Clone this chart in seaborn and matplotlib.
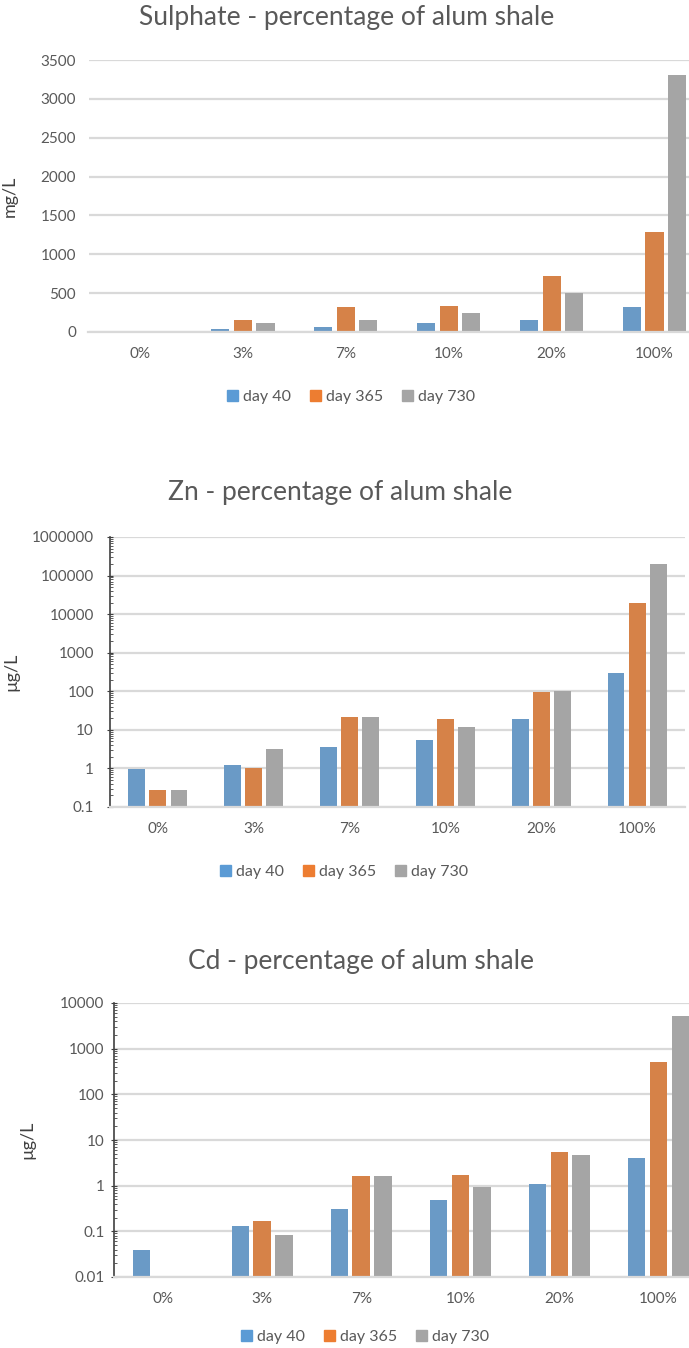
import numpy as np
import pandas as pd
import matplotlib
matplotlib.use("Agg")
import matplotlib.pyplot as plt
import seaborn as sns
from matplotlib.patches import Patch

sns.set_style("white")
plt.rcParams['font.family'] = ['Lato', 'DejaVu Sans']

# data
categories = ['0%', '3%', '7%', '10%', '20%', '100%']
days = ['day 40', 'day 365', 'day 730']
colors = ['#5B9BD5', '#ED7D31', '#A5A5A5']

sulphate_d40 = [10, 40, 70, 120, 150, 320]
sulphate_d365 = [8, 160, 320, 340, 720, 1290]
sulphate_d730 = [8, 120, 150, 240, 500, 3310]

zn_d40 = [0.95, 1.25, 3.5, 5.5, 19, 300]
zn_d365 = [0.28, 1.0, 22, 19, 95, 20000]
zn_d730 = [0.28, 3.2, 22, 12, 100, 200000]

cd_d40 = [0.04, 0.13, 0.31, 0.48, 1.1, 4.0]
cd_d365 = [np.nan, 0.17, 1.6, 1.7, 5.5, 500]
cd_d730 = [np.nan, 0.085, 1.6, 0.95, 4.6, 5300]

W, H = 689, 1348
TXT = '#595959'


def long_df(a, b, c):
    rows = []
    for series, vals in zip(days, [a, b, c]):
        for cat, v in zip(categories, vals):
            rows.append({'pct': cat, 'day': series, 'value': v})
    return pd.DataFrame(rows)


def px_axes(fig, left, right, top, bottom):
    return fig.add_axes([left / W, (H - bottom) / H, (right - left) / W, (bottom - top) / H])


def draw(fig, ax, df, log, title, title_xy, ylabel, ylab_x, legend_xy, ypad):
    sns.barplot(data=df, x='pct', y='value', hue='day', palette=colors,
                order=categories, hue_order=days, width=0.66, gap=0.2,
                linewidth=0, ax=ax, legend=False)
    if log:
        ax.set_yscale('log')
    ax.set_xlim(-0.5, 5.5)
    ax.grid(axis='y', color='#D9D9D9', linewidth=1.6)
    ax.grid(axis='x', visible=False)
    ax.set_axisbelow(True)
    for s in ['top', 'right']:
        ax.spines[s].set_visible(False)
    ax.spines['bottom'].set_color('#D9D9D9')
    ax.spines['bottom'].set_linewidth(1.6)
    ax.set_xlabel('')
    ax.set_ylabel(ylabel, fontsize=13, color='#404040')
    ax.yaxis.set_label_coords(ylab_x, 0.5)
    ax.tick_params(axis='x', length=0, pad=11, labelsize=11, labelcolor=TXT)
    ax.tick_params(axis='y', labelsize=11, labelcolor=TXT, pad=ypad)
    fig.text(title_xy[0] / W, 1 - title_xy[1] / H, title, ha='center', va='center',
             fontsize=19, color=TXT)
    handles = [Patch(color=c, label=d) for c, d in zip(colors, days)]
    fig.legend(handles=handles, loc='center', ncol=3, frameon=False,
               bbox_to_anchor=(legend_xy[0] / W, 1 - legend_xy[1] / H),
               fontsize=11.5, labelcolor=TXT, handlelength=0.7, handleheight=0.7,
               handletextpad=0.3, columnspacing=1.2)


fig = plt.figure(figsize=(W / 100, H / 100), dpi=100)

# Sulphate
ax1 = px_axes(fig, 88.5, 706, 60, 332)
draw(fig, ax1, long_df(sulphate_d40, sulphate_d365, sulphate_d730), False,
     'Sulphate - percentage of alum shale', (347, 18), 'mg/L', -0.115, (351, 397), 9)
ax1.set_ylim(0, 3500)
ax1.set_yticks(range(0, 3501, 500))
ax1.spines['left'].set_visible(False)
ax1.tick_params(axis='y', length=0)

# Zn
ax2 = px_axes(fig, 110, 685, 537, 807)
draw(fig, ax2, long_df(zn_d40, zn_d365, zn_d730), True,
     'Zn - percentage of alum shale', (340, 492), 'µg/L', -0.158, (344, 872), 9)
ax2.set_ylim(0.1, 1e6)
ax2.set_yticks([0.1, 1, 10, 100, 1000, 10000, 100000, 1000000])
ax2.set_yticklabels(['0.1', '1', '10', '100', '1000', '10000', '100000', '1000000'])

# Cd
ax3 = px_axes(fig, 113.5, 708, 1003, 1277)
draw(fig, ax3, long_df(cd_d40, cd_d365, cd_d730), True,
     'Cd - percentage of alum shale', (361, 962), 'µg/L', -0.132, (365, 1337), 4)
ax3.set_ylim(0.01, 1e4)
ax3.set_yticks([0.01, 0.1, 1, 10, 100, 1000, 10000])
ax3.set_yticklabels(['0.01', '0.1', '1', '10', '100', '1000', '10000'])

for ax in (ax2, ax3):
    ax.spines['left'].set_color('#404040')
    ax.spines['left'].set_linewidth(1.2)
    ax.tick_params(axis='y', which='major', direction='inout', length=5, color='#404040', left=True)
    ax.tick_params(axis='y', which='minor', direction='in', length=2.5, color='#404040', left=True)

fig.savefig('out.png', dpi=100)
